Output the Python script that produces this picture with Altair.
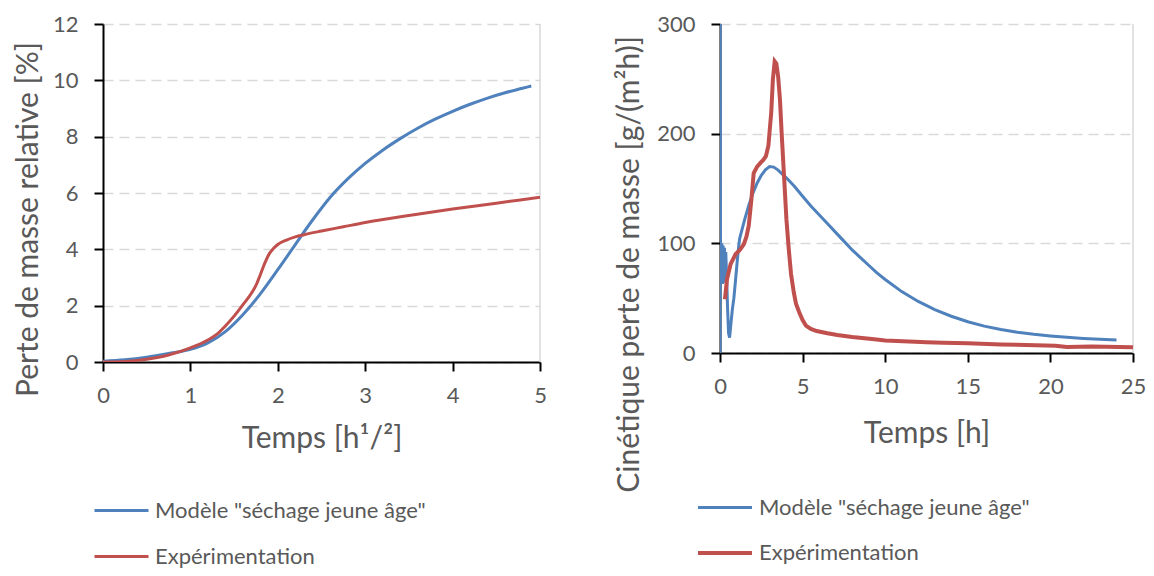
import altair as alt
import pandas as pd

SERIES = ['Modèle "séchage jeune âge"', "Expérimentation"]
COLORS = ["#4f81bd", "#c0504d"]

# ---- left panel: relative mass loss vs sqrt(time)
l_model_x = [0, 0.25, 0.5, 0.75, 1.0, 1.2, 1.4, 1.6, 1.8, 2.0, 2.2, 2.4, 2.6, 2.8, 3.0,
             3.2, 3.4, 3.6, 3.8, 4.0, 4.2, 4.4, 4.6, 4.8, 4.9]
l_model_y = [0.03, 0.08, 0.17, 0.3, 0.45, 0.68, 1.08, 1.68, 2.42, 3.28, 4.17, 5.05, 5.85, 6.5, 7.05,
             7.52, 7.93, 8.3, 8.62, 8.9, 9.15, 9.37, 9.56, 9.72, 9.8]
l_exp_x = [0, 0.25, 0.5, 0.75, 1.0, 1.2, 1.3, 1.4, 1.5, 1.6, 1.7, 1.75, 1.8, 1.85, 1.9, 1.95,
           2.0, 2.1, 2.2, 2.3, 2.5, 2.75, 3.0, 3.5, 4.0, 4.5, 5.0]
l_exp_y = [0, 0.02, 0.1, 0.25, 0.5, 0.78, 0.98, 1.28, 1.63, 2.03, 2.45, 2.72, 3.1, 3.5, 3.83, 4.03,
           4.17, 4.33, 4.44, 4.52, 4.65, 4.8, 4.95, 5.2, 5.43, 5.64, 5.85]

# ---- right panel: mass-loss rate vs time
r_model_x = [0, 0.01, 0.03, 0.07, 0.11, 0.15, 0.19, 0.23, 0.27, 0.31, 0.35, 0.4, 0.46, 0.52,
             0.58, 0.65, 0.75, 0.84, 0.95, 1.05, 1.15, 1.2, 1.5, 1.75, 2.0, 2.25, 2.5, 2.75,
             3.0, 3.25, 3.5, 4.0, 4.5, 5.0, 5.5, 6.0, 6.5, 7.0, 7.5, 8.0, 8.5, 9.0, 9.5, 10,
             11, 12, 13, 14, 15, 16, 17, 18, 19, 20, 21, 22, 23, 24]
r_model_y = [0, 300, 95, 65, 100, 63, 98, 64, 96, 66, 92, 70, 40, 18,
             14, 25, 40, 50, 68, 85, 100, 105, 122, 135, 146, 155, 162, 167,
             170, 169.5, 167, 160, 152, 143, 134, 126, 118, 110, 102, 94, 87, 80, 73, 67,
             56, 47, 39.5, 33.5, 28.5, 24.5, 21.5, 19, 17, 15.6, 14.3, 13.3, 12.5, 11.8]
r_exp_x = [0.3, 0.42, 0.64, 0.94, 1.2, 1.44, 1.6, 1.74, 1.9, 2.04, 2.25, 2.46, 2.62, 2.78, 2.93,
           3.02, 3.1, 3.2, 3.31, 3.41, 3.52, 3.63, 3.73, 3.9, 4.02, 4.16, 4.3, 4.47, 4.6, 4.8,
           5.0, 5.2, 5.5, 5.85, 6.5, 7.1, 8.0, 9.2, 10.0, 11.8, 12.5, 13.5, 15.0, 17.0, 20.3,
           21.0, 22.5, 25.0]
r_exp_y = [49, 67, 81, 90, 94, 99, 106, 116, 140, 164, 170, 173.5, 176, 179.5, 189,
           205, 219, 249, 266, 264, 252, 231, 201, 155, 122, 95, 72, 55, 45, 37,
           30, 25, 22, 20, 18, 16.4, 14.5, 12.7, 11.5, 10.3, 9.8, 9.3, 8.8, 7.8, 6.7,
           5.5, 6.0, 5.2]

FONT = "Lato"
GREY = "#595959"
GRID = "#d9d9d9"


def frame(xs, ys, name):
    return pd.DataFrame({"x": xs, "y": ys, "s": name})


def panel(df, xdom, xticks, ydom, yticks, xtitle, ytitle, w, h,
          ytitle_y, xtitle_y, ytitle_pad, leg_x, leg_y, rowpad, interp, widths):
    x = alt.X("x:Q", scale=alt.Scale(domain=xdom, nice=False, zero=False),
              axis=alt.Axis(values=xticks, title=xtitle, grid=False, format="d",
                            labelFlush=False,
                            domainColor="black", domainWidth=2, tickColor="black",
                            tickWidth=2, tickSize=9, labelPadding=14,
                            labelFont=FONT, labelFontSize=22, labelColor=GREY,
                            titleFont=FONT, titleFontSize=30, titleFontWeight="normal",
                            titleColor=GREY, titleBaseline="middle", titleY=xtitle_y))
    y = alt.Y("y:Q", scale=alt.Scale(domain=ydom, nice=False),
              axis=alt.Axis(values=yticks, title=ytitle, grid=True, gridDash=[10, 6],
                            gridColor=GRID, gridWidth=1.5, format="d",
                            domainColor="black", domainWidth=2, tickColor="black",
                            tickWidth=2, tickSize=9, labelPadding=16,
                            labelFont=FONT, labelFontSize=22, labelColor=GREY,
                            titleFont=FONT, titleFontSize=30, titleFontWeight="normal",
                            titleColor=GREY, titlePadding=ytitle_pad, titleY=ytitle_y))
    color = alt.Color("s:N", sort=SERIES,
                      scale=alt.Scale(domain=SERIES, range=COLORS),
                      legend=alt.Legend(title=None, orient="none", legendX=leg_x,
                                        legendY=leg_y, direction="vertical",
                                        symbolType="stroke", symbolSize=2916,
                                        symbolStrokeWidth=3.5, labelFont=FONT,
                                        labelFontSize=22, labelColor=GREY,
                                        labelOffset=5, labelLimit=500,
                                        rowPadding=rowpad, padding=0))
    lines = alt.Chart(df).mark_line(clip=True, interpolate=interp).encode(
        x=x, y=y, color=color,
        strokeWidth=alt.StrokeWidth("s:N", scale=alt.Scale(domain=SERIES, range=widths),
                                    legend=None))
    border = alt.Chart(pd.DataFrame({"b": [0]})).mark_rule(color=GRID, strokeWidth=1.5).encode(
        x=alt.value(w), y=alt.value(0), y2=alt.value(h))
    return alt.layer(border, lines).properties(width=w, height=h)


left_df = pd.concat([frame(l_model_x, l_model_y, SERIES[0]),
                     frame(l_exp_x, l_exp_y, SERIES[1])])
right_df = pd.concat([frame(r_model_x, r_model_y, SERIES[0]),
                      frame(r_exp_x, r_exp_y, SERIES[1])])

left = panel(left_df, [0, 5], [0, 1, 2, 3, 4, 5], [0, 12], [0, 2, 4, 6, 8, 10, 12],
             "Temps [h¹/²]", "Perte de masse relative [%]", 437, 338,
             195, 76, 9, -10, 458, 6, "monotone", [3, 3])
right = panel(right_df, [0, 25], [0, 5, 10, 15, 20, 25], [0, 300], [0, 100, 200, 300],
              "Temps [h]", "Cinétique perte de masse [g/(m²h)]", 413, 329,
              240, 80, 12, -24, 455, 5, "linear", [3, 4])

chart = alt.hconcat(left, right, spacing=67).resolve_scale(
    x="independent", y="independent", color="independent", strokeWidth="independent"
).resolve_legend(color="independent").properties(
    padding={"left": 5, "top": 5, "right": 0, "bottom": 0}
).configure_view(stroke=None)

chart.save("out.html", embed_options={"renderer": "svg", "actions": False})
